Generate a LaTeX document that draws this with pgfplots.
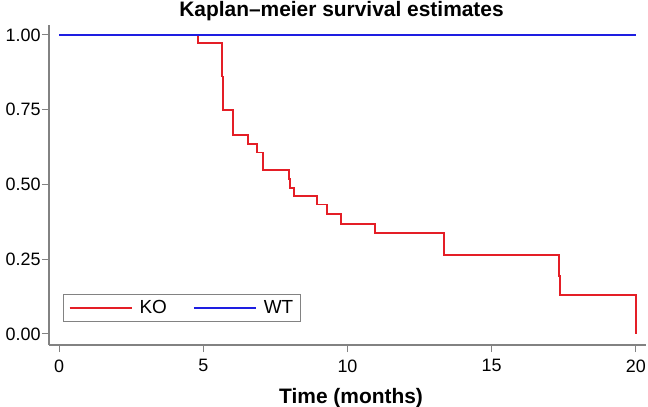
\documentclass[border=0pt]{standalone}
\usepackage{pgfplots}
\pgfplotsset{compat=1.18}
\usepackage{fontspec}
\setmainfont{Liberation Sans}
\definecolor{kmred}{RGB}{228,30,38}
\definecolor{kmblue}{RGB}{30,30,225}
\definecolor{axgray}{RGB}{130,130,130}
\begin{document}
\begin{tikzpicture}
\begin{axis}[
  scale only axis,
  width=597bp, height=320bp,
  xmin=-0.35, xmax=20.35,
  ymin=-0.0368, ymax=1.0334,
  axis x line*=bottom, axis y line*=left,
  axis line style={-, draw=axgray, line width=1.1bp},
  tick style={draw=axgray, line width=1bp},
  tick align=outside,
  major tick length=7bp,
  xtick={0,5,10,15,20},
  ytick={0,0.25,0.5,0.75,1},
  yticklabel style={xshift=2bp, /pgf/number format/fixed, /pgf/number format/fixed zerofill, /pgf/number format/precision=2},
  xticklabel style={yshift=-4bp},
  /pgf/number format/assume math mode=true,
  tick label style={font=\fontsize{18}{20}\selectfont},
  title={\bfseries Kaplan--meier survival estimates},
  every axis title shift=0pt,
  title style={at={(0.49,1)}, anchor=base, yshift=8bp, font=\fontsize{21}{24}\selectfont},
  xlabel={\bfseries Time (months)},
  every axis x label/.style={at={(0.506,0)}, anchor=base, yshift=-58bp, font=\fontsize{21}{24}\selectfont},
  legend style={at={(0.024,0.073)}, anchor=south west, legend columns=2,
    draw=axgray, line width=0.8bp, font=\fontsize{19}{21}\selectfont,
    inner xsep=5bp, inner ysep=4bp,
    /tikz/every odd column/.append style={column sep=5bp},
    /tikz/every even column/.append style={column sep=24bp}},
  legend image code/.code={\draw[#1] (0bp,0bp) -- (62bp,0bp);},
  clip=false,
]
\addplot[const plot, color=kmred, line width=1.9bp] coordinates {
(0,1)
(4.83,0.972)
(5.64,0.861)
(5.67,0.750)
(6.04,0.665)
(6.56,0.636)
(6.85,0.607)
(7.06,0.548)
(7.96,0.518)
(8.02,0.489)
(8.16,0.461)
(8.93,0.433)
(9.30,0.401)
(9.76,0.368)
(10.95,0.337)
(13.36,0.264)
(17.34,0.195)
(17.38,0.130)
(20.0,0.0)
};
\addlegendentry{KO}
\addplot[color=kmblue, line width=1.9bp] coordinates {(0,1) (20,1)};
\addlegendentry{WT}
\coordinate (sw) at (rel axis cs:0,0);
\coordinate (ne) at (rel axis cs:1,1);
\end{axis}
\pgfresetboundingbox
\path[use as bounding box] ([shift={(-49bp,-62bp)}]sw) rectangle ([shift={(2bp,25bp)}]ne);
\end{tikzpicture}
\end{document}
